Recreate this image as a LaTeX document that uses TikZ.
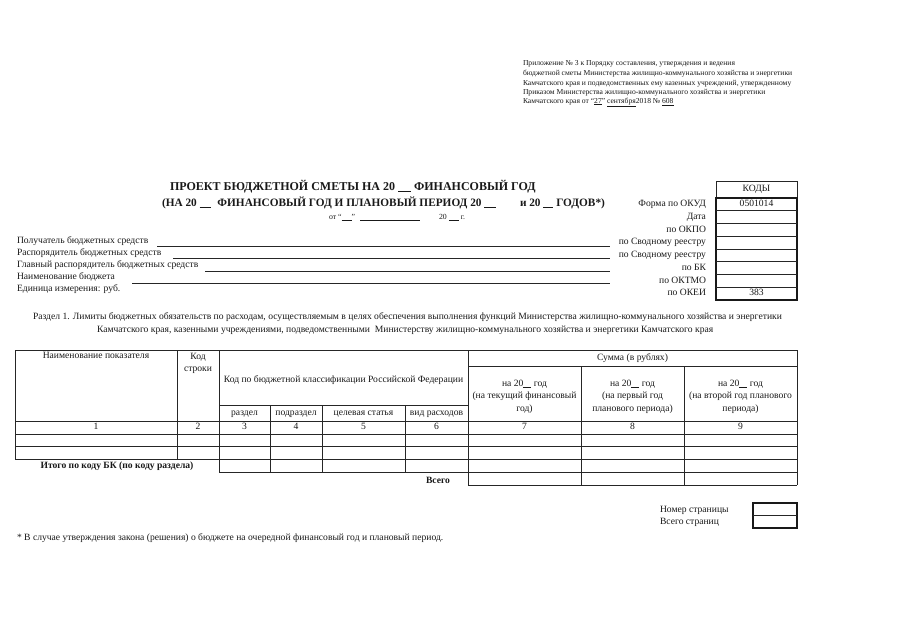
\documentclass[tikz,border=0pt]{standalone}
\usepackage{fontspec}
\setmainfont{Liberation Serif}
\newcommand\fsA{\fontsize{7.6}{10}\selectfont}
\newcommand\fsB{\fontsize{9.6}{12.4}\selectfont}
\newcommand\fsC{\fontsize{9.6}{12.5}\selectfont}
\newcommand\fsD{\fontsize{7.8}{10}\selectfont}
\newcommand\fsT{\fontsize{12}{14}\selectfont\bfseries}
\newcommand\fsU{\fontsize{11.3}{14}\selectfont\bfseries}
\newcommand\blank[1]{\rule[-1.2pt]{#1}{0.5pt}}
\begin{document}
\begin{tikzpicture}[x=1pt,y=-1pt,
  txt/.style={inner sep=0pt,outer sep=0pt,text=black!90,font=\fsB},
  lw/.style={txt,anchor=mid west},
  le/.style={txt,anchor=mid east},
  lc/.style={txt,anchor=mid},
  ln/.style={line width=0.7pt,draw=black!85},
  thick box/.style={line width=1.1pt,draw=black!90}]
\useasboundingbox (0,0) rectangle (905,640);
\fill[white] (0,0) rectangle (905,640);

% annex
\node[lw,font=\fsA] (an1) at (523,63) {Приложение № 3 к Порядку составления, утверждения и ведения};
\node[lw,font=\fsA] (an2) at (523,73) {бюджетной сметы Министерства жилищно-коммунального хозяйства и энергетики};
\node[lw,font=\fsA] (an3) at (523,83) {Камчатского края и подведомственных ему казенных учреждений, утвержденному};
\node[lw,font=\fsA] (an4) at (523,92) {Приказом Министерства жилищно-коммунального хозяйства и энергетики};
\node[lw,font=\fsA] (an5) at (523,101) {Камчатского края от “\underline{27}” \underline{сентября}2018 № \underline{608}};

% title
\node[lw,font=\fsT] (t1) at (170,188) {ПРОЕКТ БЮДЖЕТНОЙ СМЕТЫ НА 20 \blank{13pt} ФИНАНСОВЫЙ ГОД};
\node[lw,font=\fsU] (t2) at (162,204) {(НА 20 \blank{11pt}\hspace{4pt} ФИНАНСОВЫЙ ГОД И ПЛАНОВЫЙ ПЕРИОД 20 \blank{12pt}};
\node[lw,font=\fsU] (t3) at (520,204) {и 20 \blank{10pt} ГОДОВ*)};
\node[lw,font=\fsD] (t4) at (329,217) {от “\blank{10pt}”\hspace{5pt}\blank{60pt}\hspace{19pt}20 \blank{10pt} г.};

% codes
\draw[ln] (716,181) rectangle (797,198);
\node[lc] (kody) at (756.5,189.5) {КОДЫ};
\draw[thick box] (716,198) rectangle (797,300);
\foreach \i in {1,...,7} \draw[ln] (716,{198+\i*12.75}) -- (797,{198+\i*12.75});
\node[lc] (okud) at (756.5,204.4) {0501014};
\node[lc] (okei) at (756.5,293.6) {383};
\node[le] (r1) at (706,204.4) {Форма по ОКУД};
\node[le] (r2) at (706,217.1) {Дата};
\node[le] (r3) at (706,229.9) {по ОКПО};
\node[le] (r4) at (706,242.6) {по Сводному реестру};
\node[le] (r5) at (706,255.4) {по Сводному реестру};
\node[le] (r6) at (706,268.1) {по БК};
\node[le] (r7) at (706,280.9) {по ОКТМО};
\node[le] (r8) at (706,293.6) {по ОКЕИ};

% left labels
\node[lw] (l1) at (17,241) {Получатель бюджетных средств};
\node[lw] (l2) at (17,253) {Распорядитель бюджетных средств};
\node[lw] (l3) at (17,265) {Главный распорядитель бюджетных средств};
\node[lw] (l4) at (17,277) {Наименование бюджета};
\node[lw] (l5) at (17,289) {Единица измерения: руб.};
\draw[ln] (157,246) -- (610,246);
\draw[ln] (173,258) -- (610,258);
\draw[ln] (205,271) -- (610,271);
\draw[ln] (132,283) -- (610,283);

% section
\node[lw] (s1) at (33,317) {Раздел 1. Лимиты бюджетных обязательств по расходам, осуществляемым в целях обеспечения выполнения функций Министерства жилищно-коммунального хозяйства и энергетики};
\node[lw] (s2) at (97,330) {Камчатского края, казенными учреждениями, подведомственными \ Министерству жилищно-коммунального хозяйства и энергетики Камчатского края};

% table lines
\draw[ln] (15,350) -- (797,350);
\draw[ln] (468,366) -- (797,366);
\draw[ln] (219,405) -- (468,405);
\foreach \yy in {421,434,446,459} \draw[ln] (15,\yy) -- (797,\yy);
\draw[ln] (219,472) -- (797,472);
\draw[ln] (468,485) -- (797,485);
\draw[ln] (15,350) -- (15,459);
\draw[ln] (177,350) -- (177,459);
\draw[ln] (219,350) -- (219,472);
\foreach \xx in {270,322,405} \draw[ln] (\xx,405) -- (\xx,472);
\draw[ln] (468,350) -- (468,485);
\foreach \xx in {581,684} \draw[ln] (\xx,366) -- (\xx,485);
\draw[ln] (797,350) -- (797,485);

% table header text
\node[lc,font=\fsC] (h1) at (96,356) {Наименование показателя};
\node[lc,font=\fsC] (h2a) at (198,357) {Код};
\node[lc,font=\fsC] (h2b) at (198,369) {строки};
\node[lc,font=\fsC] (h3) at (343.5,380) {Код по бюджетной классификации Российской Федерации};
\node[lc,font=\fsC] (h4) at (632.5,358) {Сумма (в рублях)};
\node[txt,font=\fsC,align=center] (h7) at (524.5,396.5) {на 20\blank{8pt} год\\(на текущий финансовый\\год)};
\node[txt,font=\fsC,align=center] (h8) at (632.5,396.5) {на 20\blank{8pt} год\\(на первый год\\планового периода)};
\node[txt,font=\fsC,align=center] (h9) at (740.5,396.5) {на 20\blank{8pt} год\\(на второй год планового\\периода)};
\node[lc,font=\fsC] (s3) at (244.5,413) {раздел};
\node[lc,font=\fsC] (s4) at (296,413) {подраздел};
\node[lc,font=\fsC] (s5) at (363.5,413) {целевая статья};
\node[lc,font=\fsC] (s6) at (436.5,413) {вид расходов};
\foreach \n/\xx in {1/96,2/198,3/244.5,4/296,5/363.5,6/436.5,7/524.5,8/632.5,9/740.5}
  \node[lc,font=\fsC] (n\n) at (\xx,427.5) {\n};
\node[lc,font=\fsC\bfseries] (itogo) at (117,466) {Итого по коду БК (по коду раздела)};
\node[lc,font=\fsC\bfseries] (vsego) at (438,481.5) {Всего};

% pages
\node[lw,font=\fsC] (p1) at (660,510) {Номер страницы};
\node[lw,font=\fsC] (p2) at (660,522) {Всего страниц};
\draw[thick box] (753,503) rectangle (797,528);
\draw[ln] (753,515.5) -- (797,515.5);

% footnote
\node[lw,font=\fsC] (fn) at (17,538) {* В случае утверждения закона (решения) о бюджете на очередной финансовый год и плановый период.};
\end{tikzpicture}
\end{document}
